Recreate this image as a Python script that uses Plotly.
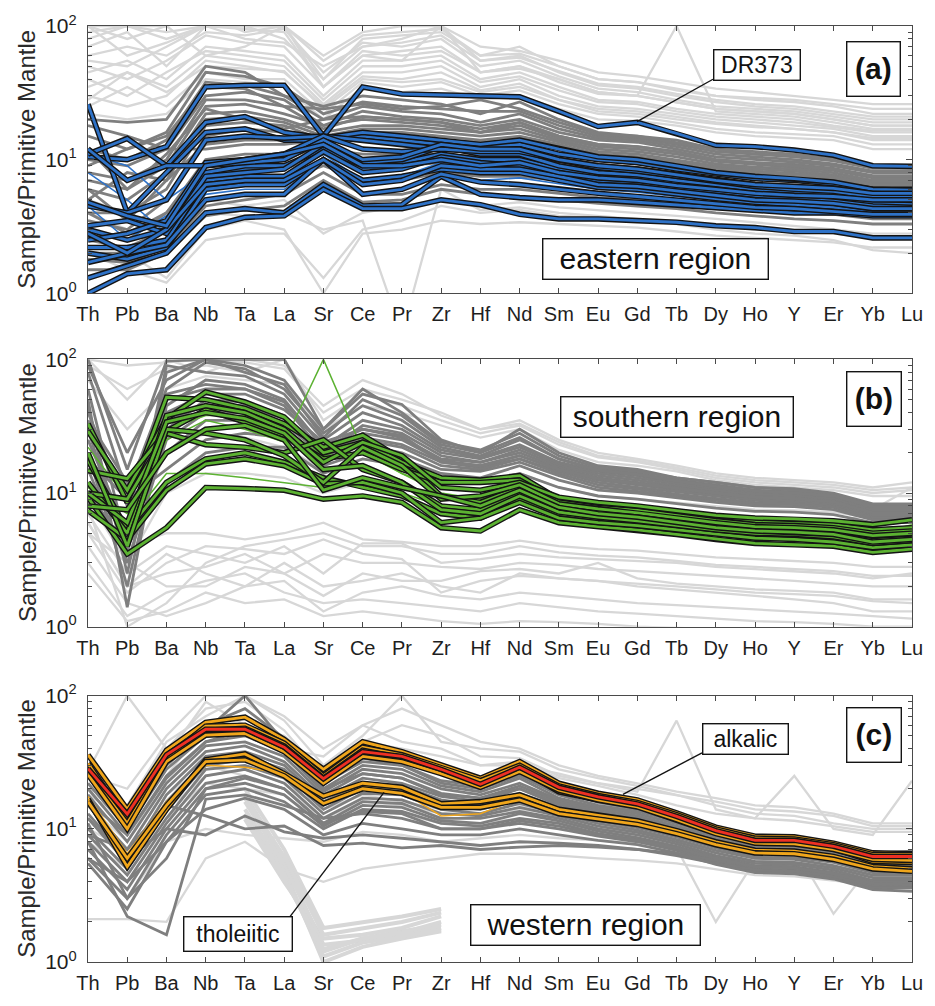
import plotly.graph_objects as go
from plotly.subplots import make_subplots

ELEMENTS = ["Th", "Pb", "Ba", "Nb", "Ta", "La", "Sr", "Ce", "Pr", "Zr", "Hf",
            "Nd", "Sm", "Eu", "Gd", "Tb", "Dy", "Ho", "Y", "Er", "Yb", "Lu"]
YTICK_VALS = [1, 10, 100]
YTICK_TEXT = ["10<sup>0</sup>", "10<sup>1</sup>", "10<sup>2</sup>"]
YMINOR_VALS = [2, 3, 4, 5, 6, 7, 8, 9, 20, 30, 40, 50, 60, 70, 80, 90]
Y_TITLE = "Sample/Primitive Mantle"

# ---------------- (a) eastern region ----------------
EAST_OTHER = [
    [100, 80, 100, 120, 90, 100, 55, 85, 90, 95, 60, 70, 50, 40, 38, 33, 30, 28, 27, 25, 22, 22],
    [80, 100, 90, 100, 100, 80, 40, 70, 80, 100, 55, 60, 45, 36, 34, 30, 27, 25, 24, 22, 20, 20],
    [60, 70, 60, 90, 85, 95, 45, 75, 70, 80, 50, 55, 42, 34, 32, 28, 25, 24, 23, 21, 19, 19],
    [50, 40, 55, 85, 75, 70, 35, 60, 65, 70, 45, 50, 38, 31, 30, 100, 23, 22, 21, 19, 17, 17],
    [45, 55, 40, 70, 65, 60, 30, 55, 55, 60, 40, 45, 35, 28, 27, 24, 22, 21, 20, 18, 16.5, 16.5],
    [40, 30, 45, 65, 60, 55, 28, 50, 50, 55, 38, 42, 33, 27, 26, 23, 21, 20, 19, 17.5, 16, 16],
    [35, 45, 35, 60, 55, 50, 26, 45, 45, 50, 35, 40, 30, 25, 24, 22, 20, 19, 18, 17, 15, 15],
    [30, 25, 30, 55, 50, 45, 25, 42, 40, 45, 33, 37, 28, 23, 22, 20, 18.5, 17.5, 17, 16, 14, 14],
    [100, 60, 75, 100, 100, 100, 60, 90, 100, 100, 70, 65, 55, 45, 42, 38, 34, 32, 30, 28, 26, 26],
    [70, 90, 50, 100, 95, 90, 35, 65, 60, 65, 45, 48, 40, 32, 30, 27, 24, 23, 22, 20, 18, 18],
    [25, 35, 25, 45, 40, 40, 22, 38, 35, 38, 30, 33, 26, 22, 21, 19, 17, 16, 15.5, 15, 13, 13],
    [22, 20, 22, 40, 38, 35, 20, 35, 32, 34, 28, 30, 24, 20, 19.5, 18, 16, 15, 14.5, 14, 12, 12],
    [90, 100, 100, 60, 70, 100, 35, 60, 55, 100, 45, 50, 40, 32, 30, 27, 24, 23, 22, 20, 18, 18],
    [55, 50, 70, 100, 80, 75, 50, 70, 75, 85, 55, 58, 46, 37, 35, 31, 28, 26, 25, 23, 21, 21],
    [5, 4, 3, 5, 4.5, 5, 2.8, 4, 4.5, 5, 4.5, 4.8, 4.4, 4.2, 4, 3.8, 3.6, 3.4, 3.2, 3, 2.8, 2.8],
    [3, 2, 1.3, 3, 3.5, 3, 1.0, 2.8, 3, 3.5, 3.3, 3.4, 3.3, 3.2, 3.1, 2.9, 2.7, 2.6, 2.5, 2.4, 2.2, 2.2],
    [4, 3, 2, 4, 3.8, 4, 3, 3.5, 0.5, 6, 4.2, 4.4, 4, 3.8, 3.6, 3.4, 3.2, 3, 2.9, 2.8, 2.6, 2.6],
    [2, 1.5, 1.2, 2.5, 2.8, 2.8, 1.3, 3, 3.5, 4.5, 4, 4.2, 3.8, 3.7, 3.5, 3.3, 3, 2.8, 2.7, 2.5, 2.1, 2.0],
    [28, 45, 32, 50, 48, 46, 24, 40, 38, 40, 32, 35, 28, 24, 23, 21, 19, 18, 17, 16, 14.5, 14.5],
    [100, 100, 80, 100, 100, 100, 40, 80, 85, 90, 60, 62, 50, 40, 38, 34, 30, 29, 28, 26, 24, 24],
]
EAST_ALL = [
    [20, 19, 20, 50, 45, 30, 25, 30, 28, 26, 22, 27, 20, 16, 15, 14, 12, 11.5, 11, 10, 9, 9],
    [15, 12, 16, 45, 42, 35, 22, 27, 25, 24, 23, 23, 18, 15, 14.5, 13, 11.5, 11, 10.5, 9.8, 8.6, 8.6],
    [12, 10, 14, 38, 36, 30, 20, 25, 23, 22, 19, 22, 17, 14.5, 14, 12.5, 11, 10.5, 10, 9.3, 8.2, 8.2],
    [10, 9, 12, 30, 32, 28, 18, 23, 21, 20, 18, 20, 16, 14, 13.5, 12, 10.5, 10, 9.6, 9, 8, 8],
    [8, 7, 10, 28, 28, 25, 17, 21, 20, 19, 17, 19, 15, 13, 12.5, 11.5, 10, 9.5, 9.2, 8.6, 7.6, 7.6],
    [7, 6, 9, 25, 26, 22, 18, 20, 19, 18, 16, 18, 14.5, 12.5, 12, 11, 9.7, 9.2, 8.8, 8.3, 7.3, 7.3],
    [6, 5, 8, 22, 23, 20, 16, 18, 18, 17, 16, 17, 14, 12, 11.5, 10.5, 9.3, 8.8, 8.5, 8, 7, 7],
    [5, 8, 7, 20, 21, 19, 15, 17, 17, 16, 15, 16, 13.5, 11.5, 11, 10, 9, 8.5, 8.2, 7.7, 6.8, 6.8],
    [4, 4, 6, 18, 19, 18, 14, 16, 16, 15, 14, 15, 13, 11, 10.5, 9.6, 8.7, 8.2, 7.9, 7.5, 6.6, 6.6],
    [3.5, 3, 5, 15, 17, 16, 13, 15, 15, 14, 13.5, 14, 12, 10.5, 10, 9.2, 8.3, 7.8, 7.5, 7.2, 6.4, 6.4],
    [18, 15, 12, 12, 13, 13, 14, 14, 14, 13, 12, 13, 11, 10, 9.5, 8.7, 7.9, 7.5, 7.2, 6.9, 6.1, 6.1],
    [3, 2.5, 4, 10, 11, 11, 12, 11, 11, 11, 10, 11, 9.5, 8.5, 8, 7.5, 6.9, 6.5, 6.2, 6, 5.4, 5.4],
    [2.5, 2.2, 3, 8, 8.5, 8.5, 11, 9, 9, 9.5, 9, 9, 8, 7.3, 7, 6.5, 6, 5.7, 5.5, 5.3, 4.8, 4.8],
    [2, 2, 2.5, 6, 6.5, 7, 9, 7, 7, 8, 7.5, 7.5, 7, 6.3, 6, 5.6, 5.2, 4.9, 4.7, 4.5, 4.2, 4.2],
    [1.8, 1.7, 2.2, 4.5, 5, 5.5, 8, 5.5, 5.5, 6.5, 6, 6, 5.6, 5.2, 5, 4.7, 4.4, 4.2, 4, 3.9, 3.6, 3.6],
    [1.5, 1.5, 2, 3.8, 4.2, 4.5, 7, 4.8, 5, 6, 5.5, 5.2, 5, 4.7, 4.5, 4.3, 4, 3.8, 3.6, 3.5, 3.3, 3.3],
    [9, 12, 15, 35, 34, 25, 24, 26, 24, 25, 28, 24, 19, 15.5, 15, 13.5, 12, 11, 10.8, 10.2, 9, 9],
    [12, 6, 11, 24, 20, 17, 20, 21, 20, 19, 16, 19, 15, 13, 12.5, 11.5, 10, 9.5, 9, 8.5, 7.5, 7.5],
    [6, 3.5, 7, 13, 14, 14, 15, 15, 15, 14, 13, 14.5, 12.5, 11, 10.5, 9.5, 8.6, 8, 7.8, 7.4, 6.5, 6.5],
    [4, 2.8, 4, 9, 10, 10, 13, 10, 10, 11, 10.5, 10.5, 9, 8, 7.6, 7, 6.4, 6, 5.8, 5.6, 5, 5],
]
EAST_DREDGE_THIN = [
    [11, 9, 5, 8, 8.5, 8.5, 12, 8.5, 9, 11, 10, 10, 8.8, 7.8, 7.4, 6.8, 6.3, 5.9, 5.7, 5.5, 5, 5],
    [4.5, 2.5, 3.8, 6.5, 7, 7.5, 11, 7, 7.5, 9.5, 9, 9, 8, 7, 6.6, 6, 5.6, 5.2, 5, 4.9, 4.5, 4.4],
    [8, 5, 2.8, 5.5, 6, 6, 9.5, 5.5, 6, 8, 7, 7.3, 6.6, 6, 5.7, 5.3, 5, 4.7, 4.5, 4.4, 4, 4],
]
EAST_DREDGE = [
    [10.5, 10, 12.5, 35, 36, 36, 15, 35, 31, 30.5, 30, 29.5, 23, 17.7, 19, 15.7, 12.8, 12.5, 11.8, 10.8, 9, 8.9],
    [26, 4, 8, 16, 17, 14, 14, 15, 14, 13, 12.5, 13, 11, 10, 9.5, 8.5, 7.8, 7.2, 7, 6.6, 6, 6],
    [11, 14.4, 9, 19, 21, 16, 14.5, 16, 15, 14, 13, 14, 12, 10.5, 10, 9, 8, 7.5, 7.2, 6.8, 6, 5.9],
    [4.5, 4, 5, 14, 15, 14.5, 15, 14, 13, 12, 11.5, 12, 10, 9, 8.5, 7.8, 7, 6.5, 6.3, 6, 5.4, 5.4],
    [3, 2.5, 3, 8, 9, 9, 12, 9, 9.5, 11, 10, 10, 8.5, 7.5, 7.2, 6.6, 6, 5.6, 5.4, 5.2, 4.7, 4.6],
    [2.2, 2.2, 2.5, 7, 7.5, 7.5, 11.5, 8, 8.5, 10.5, 9.5, 9, 8, 7, 6.8, 6.2, 5.8, 5.4, 5.1, 4.9, 4.5, 4.4],
    [2, 1.8, 2.2, 6, 6.5, 6.5, 10, 7, 7.5, 8.5, 8, 8, 7, 6.2, 6, 5.5, 5.1, 4.8, 4.6, 4.4, 4, 4],
    [1.3, 1.6, 2, 4, 4.3, 4, 6.5, 4.5, 4.6, 7.5, 5.5, 5.2, 5, 5, 4.8, 4.6, 4.4, 4.2, 4, 4, 3.8, 3.8],
    [1.0, 1.4, 1.5, 3.1, 3.7, 3.8, 6, 4.3, 4.3, 5, 4.6, 3.9, 3.6, 3.6, 3.5, 3.4, 3.2, 3.1, 2.9, 2.9, 2.6, 2.6],
    [3.2, 3.5, 2.8, 7.5, 8, 8.5, 13, 9.5, 10, 12.5, 11, 11, 9, 8, 7.7, 7, 6.5, 6, 5.8, 5.6, 5.1, 5],
    [2.5, 2.8, 3.5, 9.5, 10, 11, 15, 12, 11.5, 12, 11.5, 11.5, 10, 8.7, 8.2, 7.5, 6.9, 6.3, 6, 5.8, 5.3, 5.3],
    [1.7, 2, 2.3, 5, 5.5, 5.5, 10, 5.5, 6, 7.8, 6.8, 6.5, 6, 5.6, 5.3, 5, 4.7, 4.4, 4.3, 4.1, 3.9, 3.9],
    [12, 7, 9, 9, 9.5, 10, 14, 10, 10.5, 13, 12, 12, 10, 9, 8.5, 7.7, 7, 6.5, 6.3, 6.1, 5.6, 5.6],
    [2.8, 2, 3, 6.5, 7, 7, 10, 6.5, 7, 9, 8.5, 8.5, 7.5, 6.5, 6.3, 5.8, 5.4, 5, 4.9, 4.7, 4.3, 4.3],
    [4.8, 3.8, 3.2, 9, 10, 11, 13, 9, 9, 10, 9, 9.5, 8, 7.3, 7, 6.4, 6, 5.6, 5.4, 5.3, 5, 5],
]

# ---------------- (b) southern region ----------------
SOUTH_OTHER = [
    [100, 90, 95, 100, 95, 85, 40, 60, 50, 40, 30, 35, 25, 20, 18, 16, 14, 13, 12.5, 12, 11, 12],
    [90, 60, 85, 90, 80, 100, 35, 55, 45, 35, 28, 32, 23, 18.5, 17, 15, 13, 12, 11.5, 11, 10, 10.5],
    [70, 30, 60, 75, 70, 65, 30, 45, 40, 32, 26, 30, 21, 17, 16, 14.5, 12.5, 11.5, 11, 10.5, 9.5, 9.5],
    [6, 2, 3.5, 2.5, 2, 3, 2, 2.2, 2.5, 2, 1.8, 2.5, 2.3, 2.2, 2, 1.9, 1.8, 1.7, 1.6, 1.5, 1.3, 1.3],
    [8, 1.0, 1.5, 3, 4, 4.5, 5, 4, 4, 3.5, 3.5, 4, 3.6, 3.4, 3.3, 3.1, 2.9, 2.8, 2.7, 2.6, 2.4, 2.4],
    [5, 3, 2, 2, 2.8, 2.5, 3.5, 3, 3, 2.8, 2.7, 3, 2.9, 2.7, 2.6, 2.5, 2.4, 2.3, 2.2, 2.1, 2, 2],
    [4, 1.5, 1.2, 1.5, 2, 2.2, 1.3, 1.8, 2, 1.7, 1.6, 1.8, 1.7, 1.6, 1.5, 1.45, 1.4, 1.35, 1.3, 1.25, 1.2, 1.15],
    [7, 2.5, 4, 3.5, 3, 4, 2.5, 4.2, 4.2, 3, 3.2, 3.5, 3.3, 3.2, 3.1, 3, 2.8, 2.7, 2.6, 2.5, 2.3, 2.5],
    [3, 1.2, 1.8, 2.2, 2.5, 1.8, 1.5, 1.6, 1.5, 1.4, 1.3, 1.5, 1.4, 1.3, 1.25, 1.2, 1.15, 1.1, 1.08, 1.05, 1.0, 1.0],
    [10, 4, 5, 5, 4.5, 5, 6, 4.5, 4.3, 4, 4, 4.4, 4, 3.8, 3.7, 3.5, 3.3, 3.2, 3.1, 3, 2.8, 2.8],
    [6, 2, 2.5, 2.8, 3.5, 2.5, 1.7, 2.5, 2.2, 2.2, 2.6, 2.7, 2.5, 3.0, 2.3, 2.1, 2, 1.9, 1.85, 1.8, 1.6, 1.6],
    [12, 5, 20, 28, 26, 22, 15, 18, 16, 13, 12, 14, 11, 9.5, 9, 8.5, 8, 7.5, 7.4, 7.2, 6.5, 6.6],
    [9, 3, 10, 14, 14, 13, 10, 12, 11, 9, 9, 10, 8.5, 7.8, 7.3, 6.8, 6.3, 6, 5.8, 5.6, 7.5, 11],
    [2.5, 1.1, 1.3, 1.8, 1.5, 1.6, 1.2, 1.3, 1.2, 1.1, 1.05, 1.1, 1.08, 1.05, 1.0, 0.98, 0.95, 0.93, 0.92, 0.9, 0.88, 0.9],
    [100, 50, 100, 80, 100, 90, 45, 70, 55, 38, 30, 33, 24, 19, 17.5, 15.5, 13.5, 12.5, 12, 11.5, 10.5, 11],
    [5, 1.8, 3, 4, 3.8, 3.5, 4.5, 3.5, 3.2, 1.8, 2.2, 2.4, 2.3, 2.2, 2.1, 2.0, 1.9, 1.8, 1.75, 1.7, 1.55, 1.5],
]
SOUTH_ALL = [
    [100, 15, 97, 100, 90, 70, 30, 55, 46, 25, 20, 30, 20, 16, 15, 13, 12, 11, 10.8, 10, 8.3, 8.3],
    [80, 10, 60, 95, 85, 60, 28, 45, 35, 22, 19, 25, 18, 15, 14, 12.5, 11.5, 10.5, 10.2, 9.6, 8, 8],
    [60, 4, 90, 80, 75, 55, 25, 40, 32, 21, 18.5, 23, 17, 14.5, 13.5, 12, 11, 10.2, 10, 9.4, 7.8, 7.8],
    [50, 1.4, 45, 70, 65, 50, 22, 35, 30, 20, 18, 22, 16.5, 14, 13, 11.7, 10.7, 10, 9.7, 9.2, 7.6, 7.6],
    [40, 8, 50, 60, 60, 45, 20, 32, 28, 19, 17, 21, 16, 13.5, 12.5, 11.3, 10.4, 9.7, 9.5, 9, 7.4, 7.4],
    [35, 12, 40, 55, 55, 42, 24, 30, 26, 18, 17, 20, 15.5, 13, 12, 11, 10, 9.4, 9.2, 8.7, 7.2, 7.2],
    [25, 5, 30, 50, 48, 38, 18, 28, 25, 17.5, 16, 19, 15, 12.5, 11.5, 10.5, 9.7, 9.1, 8.9, 8.4, 7, 7],
    [20, 2, 35, 45, 45, 36, 21, 26, 23, 17, 15.5, 18, 14.5, 12, 11, 10.2, 9.4, 8.8, 8.6, 8.2, 6.8, 6.8],
    [15, 3, 25, 40, 40, 33, 19, 25, 22, 16, 15, 18, 14, 11.5, 10.7, 9.8, 9.1, 8.5, 8.4, 8, 6.6, 6.6],
    [12, 6, 20, 35, 35, 30, 17, 23, 20, 15, 14.5, 17, 13.5, 11, 10.3, 9.5, 8.8, 8.3, 8.2, 7.8, 6.5, 6.5],
    [90, 20, 70, 100, 100, 100, 30, 60, 40, 24, 21, 28, 19, 15.5, 14.5, 13, 12, 11, 10.5, 9.8, 8.1, 8.1],
    [30, 3.5, 80, 100, 80, 65, 26, 50, 38, 23, 20, 26, 18, 14.8, 13.8, 12.3, 11.2, 10.4, 10, 9.5, 7.9, 7.9],
    [18, 9, 15, 25, 28, 26, 16, 20, 18, 14, 13, 16, 12.5, 10.5, 10, 9.2, 8.5, 8, 7.9, 7.5, 6.3, 6.3],
    [45, 2.5, 55, 65, 60, 48, 22, 30, 27, 17, 16, 19, 15, 12.8, 11.8, 10.8, 10, 9.3, 9.1, 8.6, 7.1, 7.1],
    [10, 4, 12, 20, 22, 22, 14, 18, 16, 12, 12, 14, 11, 9.5, 9, 8.3, 7.7, 7.3, 7.2, 6.9, 6, 6],
]
SOUTH_DREDGE_THIN = [
    [11, 7, 25, 35, 30, 24, 100, 21, 14, 10, 9, 11, 8, 7.2, 6.8, 6.2, 5.8, 5.5, 5.4, 5.2, 4.8, 5],
    [12, 6, 14, 14, 13, 12, 11, 12, 10, 8, 7.5, 9, 7, 6.3, 6, 5.5, 5.1, 4.8, 4.7, 4.5, 4.1, 4.3],
    [22, 9, 30, 38, 38, 30, 19, 20, 14, 11, 10.5, 11, 8.2, 7.4, 7, 6.4, 5.9, 5.6, 5.5, 5.3, 4.9, 5.8],
]
SOUTH_DREDGE = [
    [33, 8.5, 52, 50, 43, 33, 22, 27, 18, 9.5, 8.5, 11, 8, 7.2, 6.8, 6.2, 5.7, 5.4, 5.3, 5.1, 4.6, 4.8],
    [29, 10.5, 36, 57, 48, 37, 20, 24, 17, 13, 12.5, 13.5, 9, 8.2, 7.7, 7.1, 6.5, 6.1, 6, 5.8, 5.3, 5.5],
    [14.7, 12.8, 29, 42, 34, 27, 18, 20, 15, 12, 12, 12.5, 8.6, 7.8, 7.4, 6.8, 6.2, 5.8, 5.7, 5.5, 5.0, 5.2],
    [17.5, 5.3, 12, 18, 20, 17, 13, 11, 9.5, 7, 6.5, 9, 7, 6.4, 6, 5.6, 5.2, 4.9, 4.8, 4.6, 4.2, 4.4],
    [9.3, 3.5, 5.5, 11, 10.8, 10.5, 9, 9.5, 8.5, 5.5, 5.2, 7.5, 6, 5.6, 5.3, 4.9, 4.5, 4.2, 4.1, 4, 3.6, 3.8],
    [7.4, 4.5, 10.5, 16.5, 18, 16, 11.7, 12, 10, 6, 6.5, 8.5, 6.5, 6, 5.7, 5.3, 4.9, 4.6, 4.5, 4.3, 3.9, 4.1],
    [12, 5, 38, 45, 40, 30, 17, 24, 19, 11, 10.5, 12, 9.3, 8.5, 8, 7.4, 6.8, 6.5, 6.4, 6.2, 5.8, 6.3],
    [10, 9, 28, 23, 22, 20, 25, 15, 12, 8, 7.5, 10, 7.5, 6.8, 6.4, 5.9, 5.5, 5.2, 5.1, 4.9, 4.4, 4.6],
    [20, 4, 30, 28, 25, 19, 12, 22, 16, 9, 9.5, 11.5, 8.3, 7.6, 7.1, 6.5, 6, 5.6, 5.5, 5.3, 4.8, 5],
    [10, 6, 34, 40, 36, 28, 15, 16, 12, 7.5, 7, 9.5, 7.2, 6.6, 6.2, 5.7, 5.3, 5, 4.9, 4.7, 4.2, 4.4],
    [8, 7.5, 20, 30, 32, 25, 10.5, 13, 11, 9.5, 8, 10.5, 7.8, 7, 6.6, 6, 5.5, 5.2, 5.1, 4.9, 4.3, 4.5],
]

# ---------------- (c) western region ----------------
WEST_OTHER = [
    [20, 15, 45, 70, 100, 65, 30, 50, 100, 45, 40, 38, 28, 24, 21, 18, 15, 13, 12.5, 11, 10, 10],
    [27, 100, 40, 80, 90, 55, 25, 45, 60, 50, 35, 34, 25, 22, 19, 65, 14, 12, 11.5, 10.5, 9.5, 9.5],
    [15, 8, 25, 60, 70, 40, 35, 60, 45, 40, 30, 32, 24, 21, 18, 15, 13, 12, 25, 10, 9, 23],
    [12, 6, 18, 30, 25, 20, 12, 16, 15, 13, 13, 14, 13, 12, 11.5, 10.5, 9, 8, 7.8, 7.2, 6.5, 6.5],
    [2.1, 2.1, 2.0, 6, 8, 5, 4, 5, 5.5, 6, 6.5, 6.5, 6.3, 6, 5.8, 5.5, 5, 4.5, 4.4, 4.1, 3.8, 3.8],
    [8, 5, 12, 22, 20, 18, 11, 14, 13, 11, 11, 12, 11, 10, 9.5, 8.6, 7.5, 6.8, 6.6, 6.1, 5.5, 5.5],
    [6, 3, 8, 10, 9, 8.5, 8, 9.5, 9, 8, 8.5, 9, 8.5, 8.2, 7.8, 7.2, 2.0, 5.8, 5.6, 5.2, 4.8, 4.7],
    [10, 7, 14, 25, 28, 22, 14, 18, 16, 14, 20, 15, 13, 11.5, 10.5, 9.5, 8.2, 7.3, 7.2, 2.3, 5.5, 5.4],
    [18, 12, 35, 90, 60, 50, 28, 45, 40, 35, 30, 30, 26, 22, 20, 18, 16, 14, 13.5, 12.5, 10.5, 10.5],
    [25, 20, 50, 100, 100, 70, 40, 60, 80, 60, 45, 40, 30, 25, 22, 19, 17, 15, 14.5, 13, 11, 11],
]
# partial analyses (Ta to Zr only) forming the wide pale wedge
WEST_OTHER_PARTIAL = [
    [None, None, None, None, 18, 6, 1.2, 1.5, 1.7, 1.9, None, None, None, None, None, None, None, None, None, None, None, None],
    [None, None, None, None, 14, 5, 1.0, 1.3, 1.5, 1.7, None, None, None, None, None, None, None, None, None, None, None, None],
    [None, None, None, None, 11.8, 4, 1.5, 1.6, 1.8, 2.2, None, None, None, None, None, None, None, None, None, None, None, None],
    [None, None, None, None, 20, 7, 1.8, 2.0, 2.2, 2.5, None, None, None, None, None, None, None, None, None, None, None, None],
    [None, None, None, None, 16, 5.5, 1.35, 1.45, 1.6, 1.8, None, None, None, None, None, None, None, None, None, None, None, None],
    [None, None, None, None, 13, 4.5, 1.1, 1.4, 1.55, 1.75, None, None, None, None, None, None, None, None, None, None, None, None],
    [None, None, None, None, 17, 6.2, 1.6, 1.8, 2.0, 2.35, None, None, None, None, None, None, None, None, None, None, None, None],
    [None, None, None, None, 12.5, 4.2, 1.25, 1.5, 1.65, 2.0, None, None, None, None, None, None, None, None, None, None, None, None],
]
WEST_ALL = [
    [25, 12, 30, 55, 100, 45, 22, 32, 30, 22, 20, 25, 18, 15, 13.5, 11.5, 9.5, 8.3, 8.2, 7.4, 6.3, 6.3],
    [22, 10, 28, 50, 60, 42, 20, 30, 28, 21, 19, 24, 17, 14.5, 13, 11, 9.2, 8, 7.9, 7.1, 6.1, 6.1],
    [20, 9, 25, 45, 50, 38, 19, 28, 26, 20, 18, 22, 16.5, 14, 12.5, 10.5, 8.8, 7.7, 7.6, 6.9, 5.9, 5.9],
    [18, 8, 22, 42, 45, 35, 18, 26, 24, 18.5, 17, 21, 16, 13.5, 12, 10.2, 8.5, 7.4, 7.3, 6.6, 5.6, 5.6],
    [15, 7, 20, 38, 42, 32, 17, 24, 22, 17.5, 16, 20, 15, 13, 11.5, 9.8, 8.2, 7.1, 7, 6.4, 5.4, 5.4],
    [13, 6, 18, 35, 38, 30, 16, 22, 21, 16.5, 15, 18.5, 14.5, 12.5, 11, 9.4, 7.8, 6.8, 6.7, 6.1, 5.2, 5.2],
    [12, 5.5, 16, 32, 35, 28, 15, 21, 20, 16, 14.5, 17.5, 14, 12, 10.6, 9, 7.5, 6.5, 6.4, 5.8, 4.9, 4.9],
    [10, 5, 14, 30, 33, 26, 14, 20, 19, 15, 14, 16.5, 13.5, 11.5, 10.2, 8.7, 7.2, 6.2, 6.1, 5.6, 4.7, 4.7],
    [9, 4.5, 12, 28, 30, 24, 13, 18.5, 18, 14, 13, 15.5, 13, 11, 9.8, 8.3, 6.9, 6, 5.9, 5.3, 4.5, 4.5],
    [8, 4, 11, 25, 28, 22, 12, 17, 16.5, 13, 12.5, 14.5, 12.5, 10.5, 9.4, 8, 6.6, 5.7, 5.6, 5.1, 4.3, 4.3],
    [7, 3.5, 10, 22, 25, 20, 11, 16, 15.5, 12, 12, 13.5, 12, 10, 9, 7.7, 6.3, 5.5, 5.4, 4.9, 4.1, 4.1],
    [6, 3, 9, 20, 22, 18, 10.5, 15, 14.5, 11.5, 11, 13, 11.5, 9.6, 8.6, 7.4, 6.1, 5.3, 5.2, 4.7, 3.9, 3.9],
    [5.5, 2.5, 8, 18, 20, 16, 10, 14, 13.5, 11, 10.5, 12, 11, 9.2, 8.3, 7.1, 5.8, 5, 4.9, 4.5, 3.7, 3.7],
    [8, 2.2, 1.6, 16.7, 18, 15, 12, 13, 12, 10, 10, 11, 10, 8.8, 8, 6.9, 5.6, 4.8, 4.7, 4.3, 3.6, 3.6],
    [12, 6, 10, 9, 12.5, 9.5, 8.5, 9, 8.5, 8, 7.5, 8, 7.8, 7.5, 7, 6.3, 5.5, 4.9, 4.8, 4.4, 3.8, 3.8],
    [9, 7, 15, 12.5, 10, 10.5, 7.5, 7.8, 7.2, 7.5, 7, 7.3, 7.5, 7.3, 7, 6.5, 5.8, 5.2, 5.1, 4.7, 4, 4],
    [16, 9, 24, 45, 55, 40, 20, 26, 24, 18, 17, 20, 15.5, 13.3, 12, 10.2, 8.4, 7.3, 7.2, 6.5, 5.5, 5.5],
    [28, 14, 32, 60, 80, 48, 24, 34, 30, 23, 21, 26, 19, 15.8, 14, 12, 9.8, 8.6, 8.5, 7.7, 6.6, 6.8],
    [6, 4, 8, 14, 17, 14, 9, 11, 10, 9, 9, 10, 9, 8.2, 7.6, 6.6, 5.4, 4.7, 4.6, 4.2, 3.5, 3.4],
    [11, 3, 6, 20, 24, 20, 11, 13.5, 13, 10, 10, 11.5, 10.5, 9, 8.2, 7.2, 6, 5.2, 5.1, 4.6, 3.9, 3.8],
]
WEST_THIN = [
    [17.5, 6.5, 16, 30, 29, 26, 16, 21, 19, 12.5, 13, 17, 13.5, 12.2, 11.2, 9.4, 7.8, 6.7, 6.6, 6, 5.1, 4.9],
]
WEST_DREDGE = [
    [36, 14, 39, 63, 69, 47, 28, 45, 38, 30, 24, 32, 22, 18.5, 16.5, 13.2, 10.3, 8.8, 8.7, 7.8, 6.6, 6.5],
    [31, 11.5, 34, 59, 60, 44, 25, 41, 36, 29, 23, 30, 21, 17.8, 15.8, 12.8, 10, 8.5, 8.4, 7.6, 6.4, 6.4],
    [27, 11, 33, 55, 57, 42, 24, 39, 34, 27, 21, 28, 19, 16.5, 14.8, 11.9, 9.4, 8, 7.9, 7.1, 5.7, 5.6],
    [25.6, 10, 32, 50.6, 52, 38, 22, 35, 32, 26, 20.5, 27, 19.5, 16.5, 14.6, 11.7, 9.2, 7.8, 7.7, 7, 5.9, 5.8],
    [16.7, 5.2, 14, 33, 36.5, 26, 17.6, 22, 20.5, 15.4, 16, 18, 14, 12.6, 11.5, 9.7, 8, 6.9, 6.8, 6.2, 5.2, 5],
    [16, 6, 15, 32, 33, 25, 15.5, 20, 18.5, 14.5, 14.5, 16.5, 13, 11.8, 10.8, 9.2, 7.6, 6.6, 6.5, 5.9, 5, 4.8],
]
WEST_ALKALIC_MEAN = [28.3, 12.9, 36, 56, 56, 41, 23.8, 38, 35, 28, 21.6, 29, 20.5, 17.4, 15.4, 12.4, 9.7, 8.2, 8.2, 7.4, 6.2, 6.2]

for grp in (EAST_OTHER, EAST_ALL, EAST_DREDGE_THIN, EAST_DREDGE, SOUTH_OTHER, SOUTH_ALL,
            SOUTH_DREDGE_THIN, SOUTH_DREDGE, WEST_OTHER, WEST_OTHER_PARTIAL, WEST_ALL,
            WEST_THIN, WEST_DREDGE, [WEST_ALKALIC_MEAN]):
    for row in grp:
        assert len(row) == len(ELEMENTS), row

# ---------------- styling ----------------
FONT = "Liberation Sans, Arial, Helvetica, sans-serif"
LIGHT = "#d7d7d7"
DARK = "#7f7f7f"
BLACK = "#141414"
BLUE = "#2e72c7"
GREEN = "#5cb232"
ORANGE = "#f0a61c"
RED = "#ee3023"
AXIS = "#4a4a4a"

W, H = 935, 1006
ML, MR, MT, MB = 88, 23, 21, 36
PW, PH = W - ML - MR, H - MT - MB


def px_x(px):
    return (px - ML) / PW


def px_y(py):
    return (H - MB - py) / PH


fig = make_subplots(rows=3, cols=1)


def add_lines(rows, row, color, width):
    for r in rows:
        fig.add_trace(go.Scatter(x=ELEMENTS, y=r, mode="lines",
                                 line=dict(color=color, width=width),
                                 connectgaps=False, hoverinfo="skip",
                                 showlegend=False), row=row, col=1)


def add_outlined(rows, row, color):
    for r in rows:
        add_lines([r], row, BLACK, 5.6)
        add_lines([r], row, color, 2.8)


add_lines(EAST_OTHER, 1, LIGHT, 2.3)
add_lines(EAST_ALL, 1, DARK, 2.8)
add_lines(EAST_DREDGE_THIN, 1, BLUE, 1.6)
add_outlined(EAST_DREDGE, 1, BLUE)

add_lines(SOUTH_OTHER, 2, LIGHT, 2.3)
add_lines(SOUTH_ALL, 2, DARK, 2.8)
add_lines(SOUTH_DREDGE_THIN, 2, GREEN, 1.5)
add_outlined(SOUTH_DREDGE, 2, GREEN)

add_lines(WEST_OTHER, 3, LIGHT, 2.3)
add_lines(WEST_OTHER_PARTIAL, 3, LIGHT, 4.0)
add_lines(WEST_ALL, 3, DARK, 2.8)
add_lines(WEST_THIN, 3, ORANGE, 1.5)
add_outlined(WEST_DREDGE, 3, ORANGE)
add_outlined([WEST_ALKALIC_MEAN], 3, RED)

domains = [(px_y(292), px_y(21)), (px_y(630), px_y(359)), (px_y(970), px_y(700))]
for i, (d0, d1) in enumerate(domains, start=1):
    fig.update_xaxes(type="category", range=[0, len(ELEMENTS) - 1], domain=[0, 1],
                     showline=True, linecolor=AXIS, linewidth=1.2, mirror="allticks",
                     ticks="inside", ticklen=5, tickwidth=1.1, tickcolor=AXIS,
                     showgrid=False, zeroline=False, ticklabelstandoff=3,
                     tickfont=dict(family=FONT, size=20, color="#1e1e1e"),
                     row=i, col=1)
    fig.update_yaxes(type="log", range=[0, 2], domain=[d0, d1],
                     tickvals=YTICK_VALS, ticktext=YTICK_TEXT,
                     showline=True, linecolor=AXIS, linewidth=1.2, mirror="allticks",
                     ticks="inside", ticklen=6, tickwidth=1.1, tickcolor=AXIS,
                     minor=dict(tickvals=YMINOR_VALS, ticks="inside", ticklen=3.5,
                                tickcolor=AXIS, tickwidth=1, showgrid=False),
                     showgrid=False, zeroline=False, ticklabelstandoff=6,
                     tickfont=dict(family=FONT, size=21, color="#1e1e1e"),
                     row=i, col=1)

annotations = []
# y titles
for (d0, d1) in domains:
    annotations.append(dict(text=Y_TITLE, xref="paper", yref="paper",
                            x=px_x(27), y=(d0 + d1) / 2, textangle=-90,
                            xanchor="center", yanchor="middle", showarrow=False,
                            font=dict(family=FONT, size=24, color="#2a2a2a")))


def box(text, cx, cy, w, h, size, bold=False):
    t = f"<b>{text}</b>" if bold else text
    annotations.append(dict(text=t, xref="paper", yref="paper",
                            x=px_x(cx), y=px_y(cy), xanchor="center", yanchor="middle",
                            width=w - 2, height=h - 2, showarrow=False,
                            bgcolor="white", bordercolor=BLACK, borderwidth=1.4,
                            borderpad=0, align="center",
                            font=dict(family=FONT, size=size, color="#111")))


box("DR373", 756.5, 60.5, 87, 31, 23)
box("(a)", 873, 64.5, 54, 55, 30, bold=True)
box("eastern region", 655, 257.5, 226, 41, 30)
box("southern region", 676.5, 417.5, 233, 41, 30)
box("(b)", 873.5, 399.5, 55, 55, 30, bold=True)
box("(c)", 873.5, 739.5, 55, 55, 30, bold=True)
box("alkalic", 745.5, 743.5, 86, 31, 23)
box("western region", 585.5, 932.5, 230, 41, 30)
box("tholeiitic", 237.5, 941.5, 109, 35, 23)

shapes = []
for (x0, y0, x1, y1) in [(713, 75, 637, 118), (702, 758, 623, 800), (290, 924, 384, 798)]:
    shapes.append(dict(type="line", xref="paper", yref="paper",
                       x0=px_x(x0), y0=px_y(y0), x1=px_x(x1), y1=px_y(y1),
                       line=dict(color=BLACK, width=1.4)))

fig.update_layout(width=W, height=H, margin=dict(l=ML, r=MR, t=MT, b=MB),
                  paper_bgcolor="white", plot_bgcolor="white",
                  showlegend=False, annotations=annotations, shapes=shapes,
                  font=dict(family=FONT))

fig.write_html("out.html")
